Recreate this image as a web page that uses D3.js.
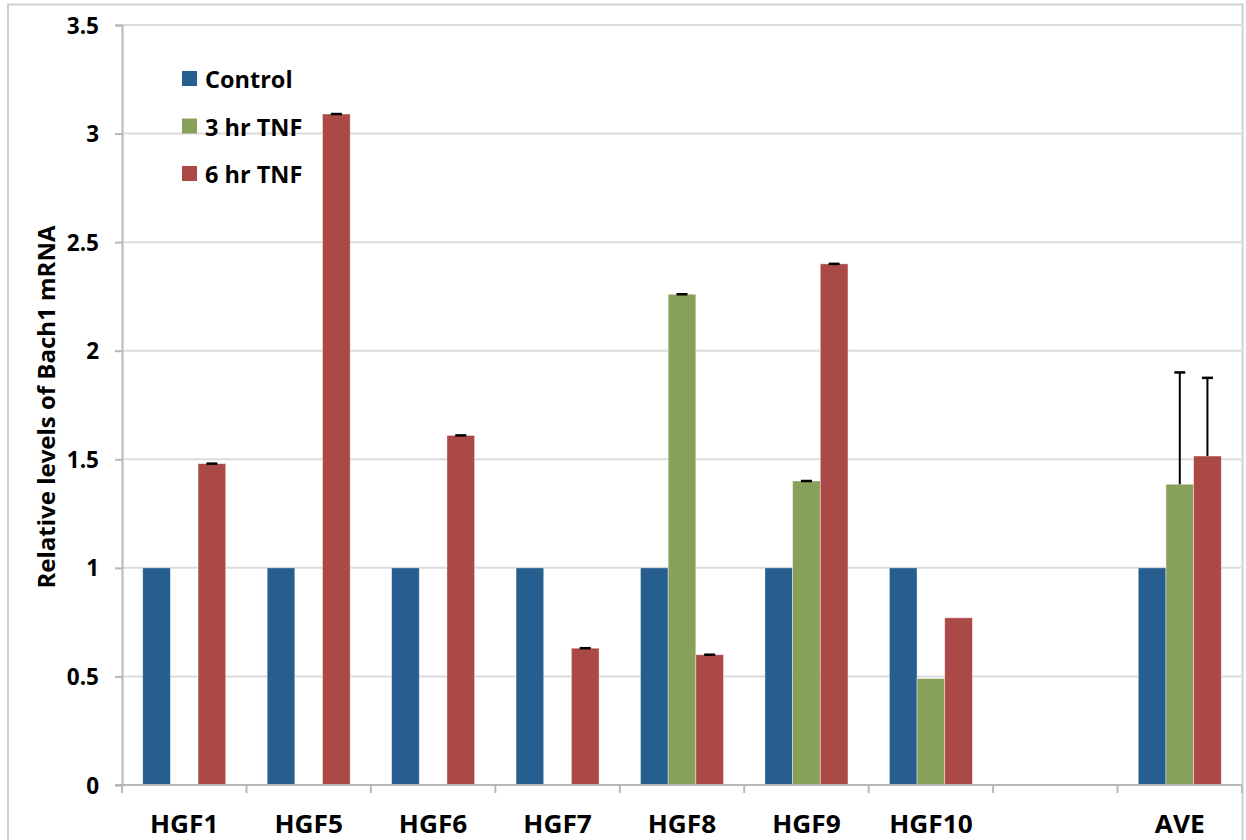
<!DOCTYPE html>
<html><head><meta charset="utf-8">
<script src="https://cdn.jsdelivr.net/npm/d3@7"></script>
<style>body{margin:0;background:#fff;} text{font-family:"Open Sans",sans-serif;font-weight:bold;}</style>
</head><body>
<svg id="c" width="1246" height="840"></svg>
<script>
const categories = ["HGF1","HGF5","HGF6","HGF7","HGF8","HGF9","HGF10","","AVE"];
const seriesNames = ["Control","3 hr TNF","6 hr TNF"];
const control = [1,1,1,1,1,1,1,null,1];
const tnf3 = [null,null,null,null,2.26,1.40,0.49,null,1.385];
const tnf6 = [1.48,3.09,1.61,0.63,0.60,2.40,0.77,null,1.515];
const controlErr = [null,null,null,null,null,null,null,null,null];
const tnf3Err = [null,null,null,null,0,0,null,null,0.515];
const tnf6Err = [0,0,0,0,0,0,null,null,0.36];
const yTicks = [0,0.5,1,1.5,2,2.5,3,3.5];
const yTickLabels = ["0","0.5","1","1.5","2","2.5","3","3.5"];
const colors = ["#255e8f","#87a15a","#ab4946"];

const svg = d3.select("#c");
const L = 122, R = 1242, T = 25, B = 785;
const y = d3.scaleLinear().domain([0,3.5]).range([B,T]);
const x0 = d3.scaleBand().domain(categories.map((d,i)=>i)).range([L,R]).paddingInner(0.333).paddingOuter(0.1665);
const x1 = d3.scaleBand().domain([0,1,2]).range([0,x0.bandwidth()]);

// frame
svg.append("path").attr("d",`M8,840 V4.5 H1242.5 V840`).attr("fill","none").attr("stroke","#d0d0d0").attr("stroke-width",2);

// gridlines
svg.append("g").selectAll("line").data(yTicks.slice(1)).join("line")
  .attr("x1",L).attr("x2",R-1).attr("y1",d=>y(d)).attr("y2",d=>y(d))
  .attr("stroke","#dcdcdc").attr("stroke-width",2);

// y axis
const yAxis = d3.axisLeft(y).tickValues(yTicks).tickFormat((d,i)=>yTickLabels[i]).tickSize(7).tickPadding(16);
const gy = svg.append("g").attr("transform",`translate(${L},0)`).call(yAxis);
gy.select(".domain").attr("stroke","#b8b8b8").attr("stroke-width",2);
gy.selectAll(".tick line").attr("stroke","#b8b8b8").attr("stroke-width",2);
gy.selectAll(".tick text").attr("font-size",22.5).attr("fill","#000").attr("font-family","Open Sans").attr("dy","0.36em");

// bars
const series = [control,tnf3,tnf6];
const errs = [controlErr,tnf3Err,tnf6Err];
series.forEach((vals,s)=>{
  const data = vals.map((v,i)=>({i,v,e:errs[s][i]})).filter(d=>d.v!=null);
  svg.append("g").selectAll("rect").data(data).join("rect")
    .attr("x",d=>x0(d.i)+x1(s)).attr("width",x1.bandwidth())
    .attr("y",d=>y(d.v)).attr("height",d=>y(0)-y(d.v))
    .attr("fill",colors[s]).attr("stroke","#fff").attr("stroke-opacity",0.5).attr("stroke-width",0.8);
  const ed = data.filter(d=>d.e!=null);
  const g = svg.append("g");
  ed.forEach(d=>{
    const cx = x0(d.i)+x1(s)+x1.bandwidth()/2;
    if (d.e>0) g.append("line").attr("x1",cx).attr("x2",cx).attr("y1",y(d.v)).attr("y2",y(d.v+d.e)).attr("stroke","#000").attr("stroke-width",2);
    g.append("line").attr("x1",cx-5.5).attr("x2",cx+5.5).attr("y1",y(d.v+d.e)).attr("y2",y(d.v+d.e)).attr("stroke","#000").attr("stroke-width",2.5);
  });
});

// x axis
svg.append("line").attr("x1",L-7).attr("x2",R).attr("y1",B).attr("y2",B).attr("stroke","#b8b8b8").attr("stroke-width",2);
const bounds = d3.range(categories.length+1).map(i=> i<categories.length ? x0(i)-x0.step()*0.1665 : R);
svg.append("g").selectAll("line").data(bounds).join("line")
  .attr("x1",d=>d).attr("x2",d=>d).attr("y1",B).attr("y2",B+8).attr("stroke","#b8b8b8").attr("stroke-width",2);
svg.append("g").selectAll("text").data(categories).join("text")
  .attr("transform",(d,i)=>`translate(${x0(i)+x0.bandwidth()/2},833) scale(1.05,1)`).attr("text-anchor","middle")
  .attr("font-size",25).attr("fill","#000").text(d=>d);

// y title
svg.append("text").attr("transform","translate(55,407) rotate(-90)").attr("text-anchor","middle")
  .attr("font-size",24).attr("fill","#000").text("Relative levels of Bach1 mRNA");

// legend
const lg = svg.append("g").selectAll("g").data(seriesNames).join("g")
  .attr("transform",(d,i)=>`translate(182,${79+i*47.5})`);
lg.append("rect").attr("x",0).attr("y",-8).attr("width",15).attr("height",15).attr("fill",(d,i)=>colors[i]);
lg.append("text").attr("x",23).attr("y",9).attr("font-size",23.5).attr("fill","#000").text(d=>d);
</script>
</body></html>
